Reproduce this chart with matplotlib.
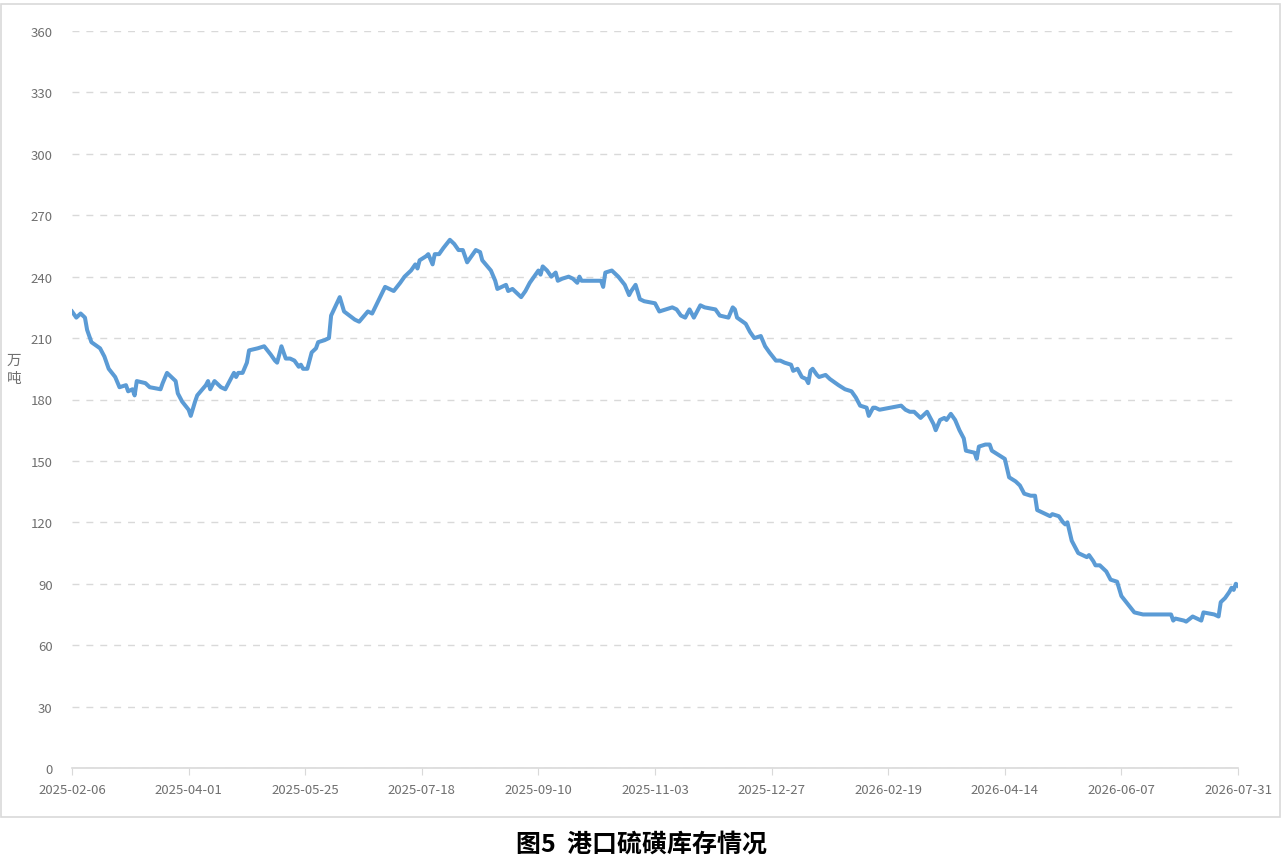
#Import packages
import datetime as dt
import matplotlib
matplotlib.use('Agg')
import matplotlib.pyplot as plt
import matplotlib.dates as mdates
from matplotlib.patches import Rectangle

plt.rcParams['font.family'] = ['Noto Sans CJK SC', 'DejaVu Sans']

#Data: days since 2025-02-06 and port sulphur stock (万吨)
start_date = dt.date(2025, 2, 6)
day_offset = [0, 2, 4, 6, 7, 9, 13, 15, 17, 20, 22, 25, 26, 28, 29, 30, 34, 36, 41, 42,
              44, 45, 48, 49, 51, 54, 55, 57, 58, 62, 63, 64, 66, 69, 71, 73, 75, 76, 77, 79,
              81, 82, 86, 89, 92, 94, 95, 97, 99, 101, 103, 105, 106, 107, 109, 111, 113, 114, 117, 119,
              120, 124, 126, 131, 133, 137, 139, 145, 149, 152, 154, 157, 159, 160, 161, 164, 165, 167, 168, 170,
              172, 175, 177, 179, 181, 183, 185, 187, 189, 190, 194, 196, 197, 201, 202, 204, 208, 210, 212, 214,
              216, 217, 218, 220, 222, 224, 225, 227, 230, 232, 234, 235, 236, 245, 246, 247, 250, 253, 256, 258,
              259, 261, 263, 265, 270, 272, 275, 278, 280, 282, 284, 286, 288, 291, 293, 298, 300, 304, 306, 307,
              308, 312, 314, 316, 319, 321, 323, 326, 328, 330, 333, 334, 336, 338, 340, 341, 342, 343, 345, 346,
              349, 351, 355, 358, 361, 363, 365, 368, 369, 371, 372, 374, 384, 386, 388, 390, 393, 395, 396, 399,
              400, 402, 404, 405, 407, 409, 411, 413, 414, 418, 419, 420, 423, 425, 426, 429, 432, 434, 437, 439,
              441, 444, 446, 447, 451, 453, 454, 457, 459, 460, 461, 463, 466, 468, 470, 471, 473, 474, 476, 479,
              481, 484, 486, 489, 492, 496, 499, 504, 509, 510, 511, 515, 516, 519, 521, 523, 524, 529, 531, 532,
              534, 536, 537, 538, 539, 540]
stock = [223, 220, 222, 220, 214, 208, 205, 201, 195, 191, 186, 187, 184, 185, 182, 189, 188, 186, 185, 188,
         193, 192, 189, 183, 179, 175, 172, 179, 182, 187, 189, 185, 189, 186, 185, 189, 193, 191, 193, 193,
         198, 204, 205, 206, 202, 199, 198, 206, 200, 200, 199, 196, 197, 195, 195, 203, 205, 208, 209, 210,
         221, 230, 223, 219, 218, 223, 222, 235, 233, 237, 240, 243, 246, 244, 248, 250, 251, 246, 251, 251,
         254, 258, 256, 253, 253, 247, 250, 253, 252, 248, 243, 238, 234, 236, 233, 234, 230, 233, 237, 240,
         243, 241, 245, 243, 240, 242, 238, 239, 240, 239, 237, 240, 238, 238, 235, 242, 243, 240, 236, 231,
         233, 236, 229, 228, 227, 223, 224, 225, 224, 221, 220, 224, 220, 226, 225, 224, 221, 220, 225, 224,
         220, 217, 213, 210, 211, 206, 203, 199, 199, 198, 197, 194, 195, 191, 190, 188, 194, 195, 192, 191,
         192, 190, 187, 185, 184, 181, 177, 176, 172, 176, 176, 175, 177, 175, 174, 174, 171, 173, 174, 168,
         165, 170, 171, 170, 173, 170, 165, 161, 155, 154, 151, 157, 158, 158, 155, 153, 151, 142, 140, 138,
         134, 133, 133, 126, 124, 123, 124, 123, 120, 119, 120, 111, 105, 104, 103, 104, 101, 99, 99, 96,
         92, 91, 84, 80, 76, 75, 75, 75, 75, 72, 73, 72, 71.5, 74, 73, 72, 76, 75, 74, 81,
         83, 86, 88, 87, 90, 89]
tick_offset = [0, 54, 108, 162, 216, 270, 324, 378, 432, 486, 540]
y_ticks = [0, 30, 60, 90, 120, 150, 180, 210, 240, 270, 300, 330, 360]

#Main script
def main():
	dates = [start_date + dt.timedelta(days=d) for d in day_offset]
	tick_dates = [start_date + dt.timedelta(days=d) for d in tick_offset]

	fig = plt.figure(figsize=(12.83, 8.62), dpi=100)
	fig.patches.append(Rectangle((0.001, 0.051), 0.997, 0.943, transform=fig.transFigure,
	                             fill=False, edgecolor='#d9d9d9', linewidth=1.2))

	ax = fig.add_axes([72/1283, 93/862, 1166/1283, 737/862])
	ax.plot(dates, stock, color='#5b9bd5', linewidth=2.9, solid_joinstyle='round', zorder=3)

	ax.set_xlim(tick_dates[0], tick_dates[-1])
	ax.set_ylim(0, 360)
	ax.set_yticks(y_ticks)
	ax.set_xticks(tick_dates)
	ax.xaxis.set_major_formatter(mdates.DateFormatter('%Y-%m-%d'))

	#Dashed grid, no box
	ax.grid(axis='y', color='#d9d9d9', linestyle=(0, (5, 5)), linewidth=1.0)
	ax.set_axisbelow(True)
	for side in ['top', 'right', 'left']:
		ax.spines[side].set_visible(False)
	ax.spines['bottom'].set_color('#d9d9d9')
	ax.spines['bottom'].set_linewidth(1.2)
	ax.tick_params(axis='y', length=0, pad=14, labelsize=9.5, labelcolor='#6f6f6f')
	ax.tick_params(axis='x', length=5, color='#d9d9d9', pad=6, labelsize=9.5, labelcolor='#6f6f6f')

	fig.text(14/1283, 1 - 370/862, '万\n吨', ha='center', va='center', fontsize=10.5,
	         color='#6f6f6f', linespacing=1.3)
	fig.text(0.5, 1 - 845/862, '图5  港口硫磺库存情况', ha='center', va='center',
	         fontsize=18, fontweight='bold', color='black')

	plt.savefig('out.png', dpi=100)

#Execute main script
if __name__ == '__main__':
	main()
